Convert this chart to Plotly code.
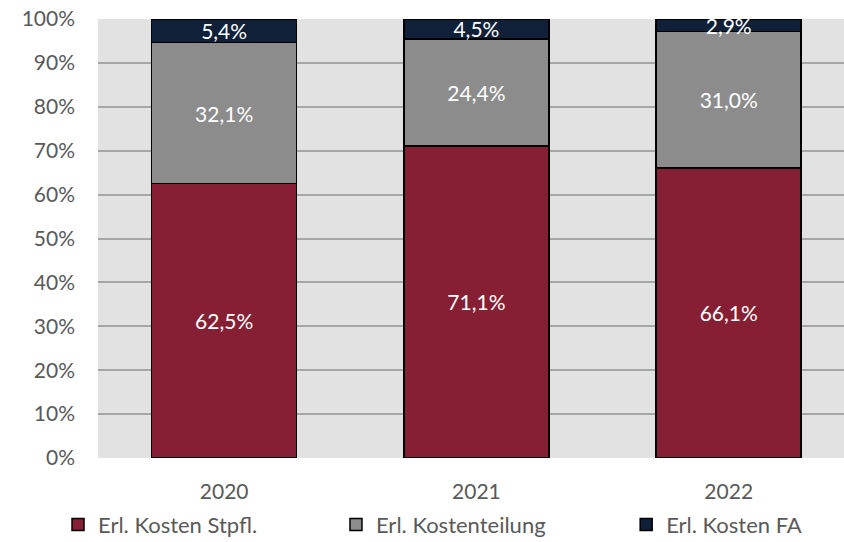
import plotly.graph_objects as go

years = ["2020", "2021", "2022"]
stpfl = [62.5, 71.1, 66.1]
kostenteilung = [32.1, 24.4, 31.0]
kosten_fa = [5.4, 4.5, 2.9]
series_names = ["Erl. Kosten Stpfl.", "Erl. Kostenteilung", "Erl. Kosten FA"]
colors = ["#861f33", "#8c8c8c", "#0f2038"]

FONT = "Lato, Open Sans, sans-serif"
legend_ids = ["legend", "legend2", "legend3"]
legend_x = [-0.0536, 0.319, 0.708]

fig = go.Figure()
for name, vals, col, lid in zip(series_names, [stpfl, kostenteilung, kosten_fa], colors, legend_ids):
    fig.add_trace(go.Bar(
        x=years, y=vals, name=name,
        marker=dict(color=col, line=dict(color="#000000", width=1.5)),
        width=0.575,
        text=[f"{v:.1f}".replace(".", ",") + "%" for v in vals],
        textposition="inside", insidetextanchor="middle",
        textfont=dict(color="white", size=21, family=FONT),
        constraintext="none",
        hoverinfo="skip",
        legend=lid,
    ))

legend_common = dict(orientation="h", y=-0.152, yanchor="middle", xanchor="left",
                     font=dict(size=22, color="#595959", family=FONT),
                     itemwidth=30, bgcolor="rgba(0,0,0,0)")

fig.update_layout(
    barmode="stack",
    width=844, height=542,
    margin=dict(l=98, r=0, t=19, b=84, autoexpand=False),
    paper_bgcolor="white",
    plot_bgcolor="#e2e2e2",
    uniformtext=dict(minsize=21, mode="show"),
    font=dict(family=FONT, color="#595959"),
    showlegend=True,
    legend=dict(x=legend_x[0], **legend_common),
    legend2=dict(x=legend_x[1], **legend_common),
    legend3=dict(x=legend_x[2], **legend_common),
)
fig.update_xaxes(range=[-0.5, 2.457], showgrid=False, zeroline=False, showline=False,
                 tickfont=dict(size=21, color="#595959", family=FONT),
                 ticks="", ticklabelstandoff=19)
fig.update_yaxes(range=[0, 100], dtick=10, ticksuffix="%", showgrid=True,
                 gridcolor="#a6a6a6", gridwidth=1.5, zeroline=False, showline=False,
                 tickfont=dict(size=21, color="#595959", family=FONT),
                 ticks="", ticklabelstandoff=22)

fig.write_html("out.html", config={"displayModeBar": False},
               post_script="document.body.style.margin='0';")
